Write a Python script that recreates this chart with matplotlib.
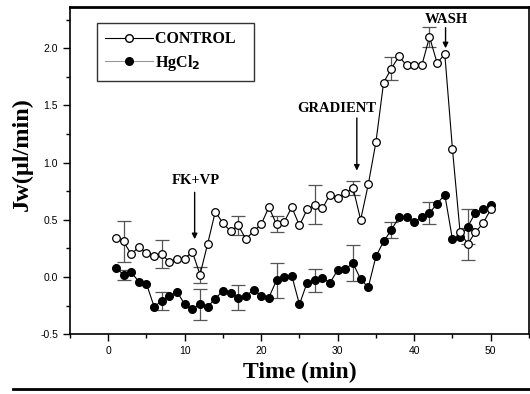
import matplotlib
matplotlib.use("Agg")
import matplotlib.pyplot as plt
from matplotlib.ticker import MultipleLocator
from matplotlib.lines import Line2D

# ---- data ----
time = list(range(1, 51))
control = [0.34, 0.31, 0.20, 0.26, 0.21, 0.18, 0.20, 0.13, 0.16, 0.16,
           0.22, 0.02, 0.29, 0.57, 0.47, 0.40, 0.45, 0.33, 0.40, 0.46,
           0.61, 0.46, 0.48, 0.61, 0.45, 0.59, 0.63, 0.60, 0.72, 0.69,
           0.73, 0.78, 0.50, 0.81, 1.18, 1.70, 1.82, 1.93, 1.85, 1.85,
           1.85, 2.10, 1.87, 1.95, 1.12, 0.39, 0.29, 0.39, 0.47, 0.59]
hgcl2 = [0.08, 0.02, 0.04, -0.04, -0.06, -0.26, -0.21, -0.17, -0.13, -0.24,
         -0.28, -0.24, -0.26, -0.19, -0.12, -0.14, -0.18, -0.17, -0.11, -0.17,
         -0.18, -0.03, 0.00, 0.01, -0.24, -0.05, -0.03, -0.01, -0.05, 0.06,
         0.07, 0.12, -0.02, -0.09, 0.18, 0.31, 0.41, 0.52, 0.52, 0.48,
         0.52, 0.56, 0.64, 0.72, 0.33, 0.35, 0.44, 0.56, 0.59, 0.63]
err_times = [2, 7, 12, 17, 22, 27, 32, 37, 42, 47]
control_err = [0.18, 0.125, 0.07, 0.08, 0.07, 0.17, 0.06, 0.10, 0.09, 0.14]
hgcl2_err = [0.045, 0.08, 0.135, 0.11, 0.15, 0.10, 0.155, 0.07, 0.095, 0.155]

annotations = [("FK+VP", 11.3, 0.84, 0.74, 0.33),
               ("GRADIENT", 32.5, 1.47, 1.39, 0.93),
               ("WASH", 44.1, 2.25, 2.18, 2.00)]
text_x = {"FK+VP": 11.4, "GRADIENT": 29.9, "WASH": 44.2}

fig = plt.figure(figsize=(5.30, 3.94), dpi=100)
ax = fig.add_axes([0.132, 0.152, 0.866, 0.830])

serif = ["Liberation Serif", "DejaVu Serif"]
sans = ["Liberation Sans", "DejaVu Sans"]

def idx(t):
    return time.index(t)

ecol = "#555555"
ax.errorbar(err_times, [control[idx(t)] for t in err_times], yerr=control_err,
            fmt="none", ecolor=ecol, elinewidth=0.9, capsize=5, capthick=0.9, zorder=1)
ax.errorbar(err_times, [hgcl2[idx(t)] for t in err_times], yerr=hgcl2_err,
            fmt="none", ecolor=ecol, elinewidth=0.9, capsize=5, capthick=0.9, zorder=1)

ax.plot(time, hgcl2, color="black", lw=0.8, marker="o", ms=5.5,
        mfc="black", mec="black", zorder=3)
ax.plot(time, control, color="black", lw=0.8, marker="o", ms=5.5,
        mfc="white", mec="black", mew=0.9, zorder=4)

ax.set_xlim(-5, 55)
ax.set_ylim(-0.5, 2.36)
ax.xaxis.set_minor_locator(MultipleLocator(5))
ax.yaxis.set_minor_locator(MultipleLocator(0.25))
ax.tick_params(which="major", direction="out", length=5, width=1, labelsize=7.5)
ax.tick_params(which="minor", direction="out", length=3, width=1)
ax.set_yticks([-0.5, 0.0, 0.5, 1.0, 1.5, 2.0])
ax.set_yticklabels(["-0.5", "0.0", "0.5", "1.0", "1.5", "2.0"], family=sans, fontsize=7.5)
ax.set_xticks([0, 10, 20, 30, 40, 50])
ax.set_xticklabels(["0", "10", "20", "30", "40", "50"], family=sans, fontsize=7.5)

for s in ax.spines.values():
    s.set_linewidth(1.2)
ax.spines["top"].set_linewidth(2.0)

ax.set_xlabel("Time (min)", family=serif, fontweight="bold", fontsize=17)
ax.set_ylabel("Jw(\u03bcl/min)", family=serif, fontweight="bold", fontsize=17.5)
ax.xaxis.set_label_coords(0.5, -0.085)
ax.yaxis.set_label_coords(-0.080, 0.55)

for name, ax_x, ty, y0, y1 in annotations:
    ax.text(text_x[name], ty, name, family=serif, fontweight="bold", fontsize=10.5,
            ha="center", va="center")
    ax.annotate("", xy=(ax_x, y1), xytext=(ax_x, y0),
                arrowprops=dict(arrowstyle="-|>", color="black", lw=1.0,
                                mutation_scale=8, shrinkA=0, shrinkB=0))

handles = [Line2D([0], [0], color="black", lw=0.8, marker="o", ms=5.5, mfc="white", mec="black"),
           Line2D([0], [0], color="#999999", lw=0.8, marker="o", ms=5.5, mfc="black", mec="black")]
leg = ax.legend(handles, ["CONTROL   ", "HgCl$_\\mathbf{2}$"], loc="upper left",
                bbox_to_anchor=(0.059, 0.951), borderaxespad=0, frameon=True, fancybox=False,
                edgecolor="black", handlelength=3.0, handletextpad=0.1, borderpad=0.5,
                labelspacing=0.35, prop=dict(family=serif, weight="bold", size=11.5))
leg.get_frame().set_linewidth(1.0)

fig.add_artist(Line2D([0.025, 1.0], [0.013, 0.013], color="black", lw=2.0,
                      transform=fig.transFigure))

fig.savefig("out.png", dpi=100)
